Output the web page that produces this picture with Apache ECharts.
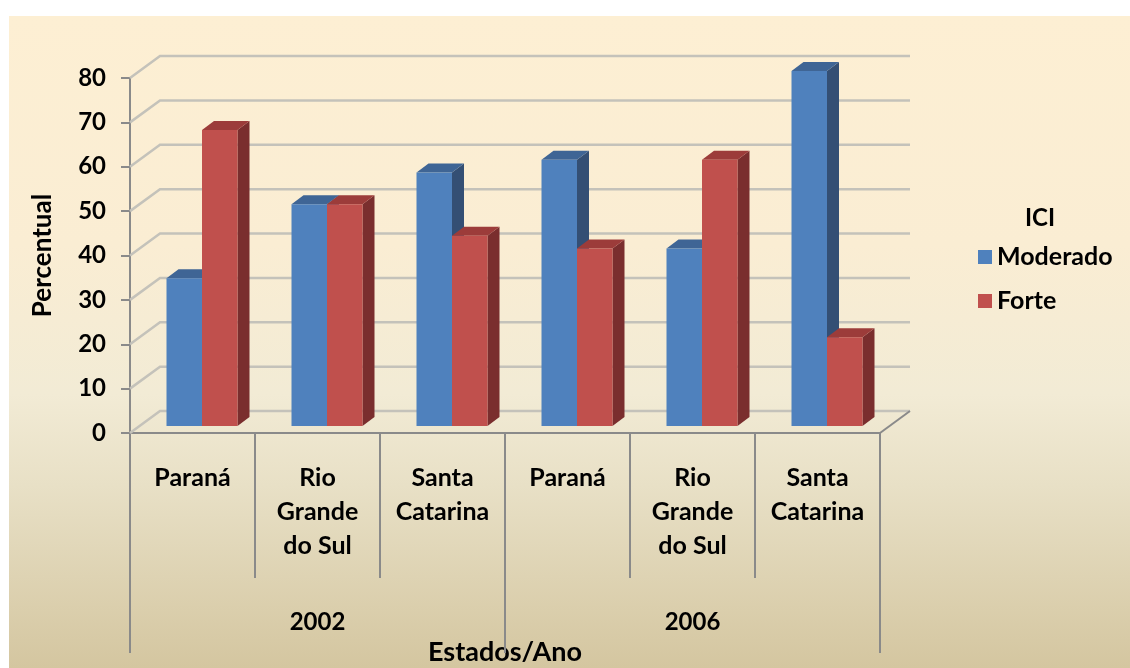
<!DOCTYPE html>
<html>
<head>
<meta charset="utf-8">
<script src="https://cdn.jsdelivr.net/npm/echarts@6/dist/echarts.min.js"></script>
<style>
  html, body { margin: 0; padding: 0; background: #fff; }
  #bg {
    position: absolute; left: 9px; top: 16px; width: 1121px; height: 652px;
    background: linear-gradient(#FDEFD3 0%, #FAEDD3 35%, #F2EBD5 58%, #E8E0C6 72%, #D4C6A0 100%);
  }
  #chart { position: absolute; left: 0; top: 0; width: 1130px; height: 668px; }
</style>
</head>
<body>
<div id="bg"></div>
<div id="chart"></div>
<script>
// categorias (estado) e anos
const estados = ['Paraná', 'Rio\nGrande\ndo Sul', 'Santa\nCatarina', 'Paraná', 'Rio\nGrande\ndo Sul', 'Santa\nCatarina'];
const anos = ['2002', '2006'];
// valores (%)
const moderado = [33.3, 50, 57.1, 60, 40, 80];
const forte = [66.7, 50, 42.9, 40, 60, 20];
const yTicks = [0, 10, 20, 30, 40, 50, 60, 70, 80];

const FONT = 'Lato';
const DEPTH_X = 30, DEPTH_Y = -22;   // profundidade da parede
const OFF_X = 9.5, OFF_Y = -7;       // plano das barras
const BAR_DX = 12, BAR_DY = -9;      // espessura das barras

const chart = echarts.init(document.getElementById('chart'));

// barras 3d
const barRender = (seriesPos, colors) => (params, api) => {
  const idx = api.value(0);
  const val = api.value(1);
  const base = api.coord([idx, 0]);
  const top = api.coord([idx, val]);
  const band = api.size([1, 0])[0];
  const bw = band * 0.284;
  const x0 = base[0] + (seriesPos - 1) * bw + OFF_X;
  const x1 = x0 + bw;
  const yb = base[1] + OFF_Y;
  const yt = top[1] + OFF_Y;
  return {
    type: 'group',
    children: [
      { type: 'polygon', shape: { points: [[x1, yt], [x1 + BAR_DX, yt + BAR_DY], [x1 + BAR_DX, yb + BAR_DY], [x1, yb]] },
        style: { fill: colors.side } },
      { type: 'polygon', shape: { points: [[x0, yt], [x0 + BAR_DX, yt + BAR_DY], [x1 + BAR_DX, yt + BAR_DY], [x1, yt]] },
        style: { fill: colors.top } },
      { type: 'rect', shape: { x: x0, y: yt, width: bw, height: yb - yt },
        style: { fill: colors.front } }
    ]
  };
};

// parede de fundo + chao
const wallRender = (params, api) => {
  const v = api.value(0);
  const band = api.size([1, 0])[0];
  const xs = api.coord([0, v])[0] - band / 2;
  const xe = api.coord([estados.length - 1, v])[0] + band / 2;
  const y = api.coord([0, v])[1];
  const children = [
    { type: 'polyline', shape: { points: [[xs, y], [xs + DEPTH_X, y + DEPTH_Y], [xe + DEPTH_X, y + DEPTH_Y]] },
      style: { stroke: '#C4C2BA', lineWidth: 2.5, fill: null } }
  ];
  if (v === 0) {
    children.push({ type: 'line', shape: { x1: xe, y1: y, x2: xe + DEPTH_X, y2: y + DEPTH_Y },
      style: { stroke: '#8A8A8A', lineWidth: 2 } });
  }
  return { type: 'group', children: children };
};

const option = {
  backgroundColor: 'transparent',
  animation: false,
  title: {
    text: 'ICI', left: 1020, top: 201,
    textStyle: { fontFamily: FONT, fontSize: 24, fontWeight: 'bold', color: '#000' }
  },
  legend: {
    data: ['Moderado', 'Forte'],
    orient: 'vertical', left: 973, top: 239,
    icon: 'rect', itemWidth: 14, itemHeight: 14, itemGap: 18, itemStyle: { borderWidth: 0 },
    textStyle: { fontFamily: FONT, fontSize: 25, fontWeight: 'bold', color: '#000', lineHeight: 26 }
  },
  grid: { left: 130, right: 250, top: 78, bottom: 235, containLabel: false, outerBoundsMode: 'none' },
  xAxis: [
    {
      type: 'category', data: estados, position: 'bottom',
      axisLine: { show: true, lineStyle: { color: '#8A8A8A', width: 2 } },
      axisTick: { show: true, interval: 0, length: 145, lineStyle: { color: '#8A8A8A', width: 2 } },
      axisLabel: { interval: 0, margin: 28, fontFamily: FONT, fontSize: 25, fontWeight: 'bold', color: '#000', lineHeight: 34 },
      splitLine: { show: false }
    },
    {
      type: 'category', data: anos, position: 'bottom', offset: 0,
      axisLine: { show: false },
      axisTick: { show: true, interval: 0, length: 220, lineStyle: { color: '#8A8A8A', width: 2 } },
      axisLabel: { interval: 0, margin: 172, fontFamily: FONT, fontSize: 24, fontWeight: 'bold', color: '#000', lineHeight: 34 },
      name: 'Estados/Ano', nameLocation: 'middle', nameGap: 206, nameMoveOverlap: false,
      nameTextStyle: { fontFamily: FONT, fontSize: 27, fontWeight: 'bold', color: '#000' }
    }
  ],
  yAxis: {
    type: 'value', min: 0, max: 80, interval: 10,
    name: 'Percentual', nameLocation: 'middle', nameGap: 74, nameRotate: 90, nameMoveOverlap: false,
    nameTextStyle: { fontFamily: FONT, fontSize: 26, fontWeight: 'bold', color: '#000' },
    axisLine: { show: true, lineStyle: { color: '#8A8A8A', width: 2 } },
    axisTick: { show: true, length: 9, lineStyle: { color: '#8A8A8A', width: 2 } },
    axisLabel: { margin: 24, fontFamily: FONT, fontSize: 24, fontWeight: 'bold', color: '#000' },
    splitLine: { show: false }
  },
  series: [
    {
      name: 'wall', type: 'custom', clip: false, z: 1, silent: true,
      renderItem: wallRender,
      data: yTicks.map(v => [v])
    },
    {
      name: 'Moderado', type: 'custom', clip: false, z: 2,
      itemStyle: { color: '#4F81BD' },
      renderItem: barRender(0, { front: '#4F81BD', side: '#344F74', top: '#3F6595' }),
      encode: { x: 0, y: 1 },
      data: moderado.map((v, i) => [i, v])
    },
    {
      name: 'Forte', type: 'custom', clip: false, z: 3,
      itemStyle: { color: '#C0504D' },
      renderItem: barRender(1, { front: '#C0504D', side: '#7A2E2E', top: '#9C3C3A' }),
      encode: { x: 0, y: 1 },
      data: forte.map((v, i) => [i, v])
    }
  ]
};

chart.setOption(option);
</script>
</body>
</html>
